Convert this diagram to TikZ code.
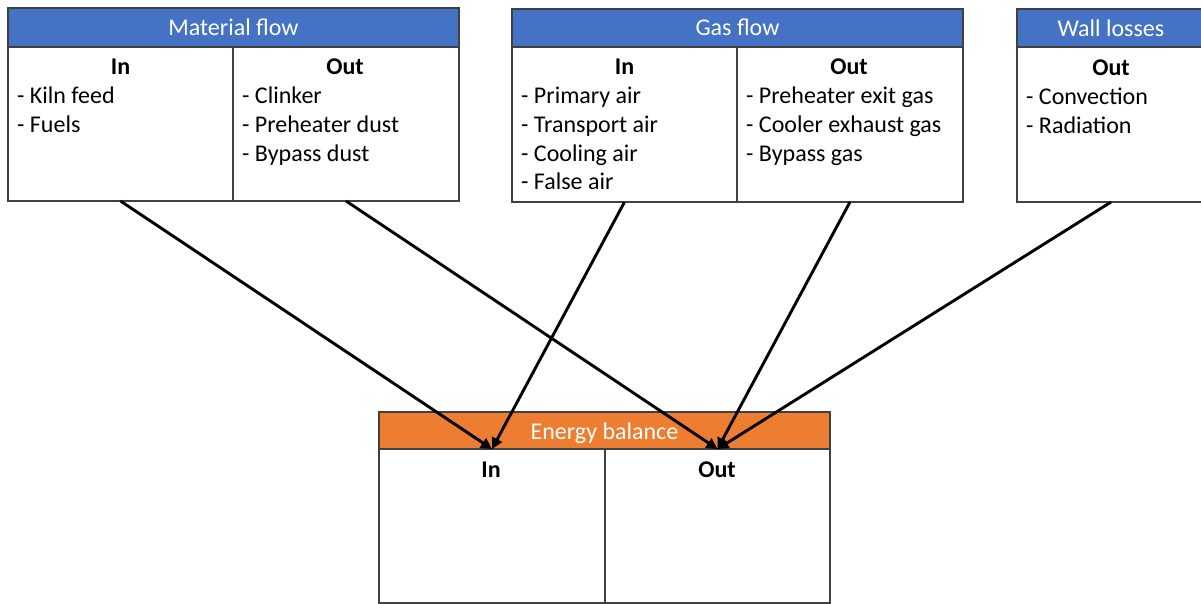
\documentclass[tikz,border=0pt]{standalone}
\usepackage{fontspec}
\setmainfont{Carlito}
\usetikzlibrary{arrows.meta}
\definecolor{hblue}{HTML}{4472C4}
\definecolor{horange}{HTML}{ED7D31}
\definecolor{edge}{HTML}{404040}
\tikzset{
  box/.style={draw=edge, line width=1.3pt, rectangle, inner sep=0pt, outer sep=0pt},
  hdr/.style={box},
  bluehdr/.style={hdr, fill=hblue},
  orangehdr/.style={hdr, fill=horange},
  hdrtext/.style={text=white, font=\fontsize{24}{28}\selectfont, anchor=base, inner sep=0pt},
  cell/.style={box, fill=white},
  colhead/.style={anchor=base, inner sep=0pt, font=\fontsize{24}{28}\selectfont\bfseries},
  item/.style={anchor=base west, inner sep=0pt, font=\fontsize{24}{28}\selectfont},
  flow/.style={line width=2.9pt, -{Triangle[length=11pt,width=11pt]}},
}
\begin{document}
\begin{tikzpicture}[x=1pt,y=-1pt]
\useasboundingbox (0,0) rectangle (1201,604);
% Material flow
\node[bluehdr, minimum width=451pt, minimum height=39pt] (matH) at (233.5,27.5) {};
\node[hdrtext] (matT) at (233.5,36) {Material flow};
\node[cell, minimum width=225pt, minimum height=154pt] (matIn) at (120.5,124) {};
\node[cell, minimum width=226pt, minimum height=154pt] (matOut) at (346,124) {};
\node[colhead] (matInH) at (120.5,74.5) {In};
\node[colhead] (matOutH) at (345,74.5) {Out};
\node[item] (m1) at (17,103.5) {- Kiln feed};
\node[item] (m2) at (17,132.5) {- Fuels};
\node[item] (m3) at (242,103.5) {- Clinker};
\node[item] (m4) at (242,132.5) {- Preheater dust};
\node[item] (m5) at (242,161.5) {- Bypass dust};
% Gas flow
\node[bluehdr, minimum width=451pt, minimum height=38pt] (gasH) at (737.5,28) {};
\node[hdrtext] (gasT) at (737.5,36) {Gas flow};
\node[cell, minimum width=225pt, minimum height=155pt] (gasIn) at (624.5,124.5) {};
\node[cell, minimum width=226pt, minimum height=155pt] (gasOut) at (850,124.5) {};
\node[colhead] (gasInH) at (624.5,74.5) {In};
\node[colhead] (gasOutH) at (849,74.5) {Out};
\node[item] (g1) at (521,103.5) {- Primary air};
\node[item] (g2) at (521,132.5) {- Transport air};
\node[item] (g3) at (521,161.5) {- Cooling air};
\node[item] (g4) at (521,189.5) {- False air};
\node[item] (g5) at (746,103.5) {- Preheater exit gas};
\node[item] (g6) at (746,132.5) {- Cooler exhaust gas};
\node[item] (g7) at (746,161.5) {- Bypass gas};
% Wall losses
\node[bluehdr, minimum width=188pt, minimum height=38pt] (wallH) at (1111,28) {};
\node[hdrtext] (wallT) at (1111,37) {Wall losses};
\node[cell, minimum width=188pt, minimum height=155pt] (wallOut) at (1111,124.5) {};
\node[colhead] (wallOutH) at (1111,75.5) {Out};
\node[item] (w1) at (1026,104.5) {- Convection};
\node[item] (w2) at (1026,133.5) {- Radiation};
% Energy balance
\node[orangehdr, minimum width=451pt, minimum height=37pt] (enH) at (604.5,430.5) {};
\node[hdrtext] (enT) at (604.5,439) {Energy balance};
\node[cell, minimum width=226pt, minimum height=154pt] (enIn) at (492,526) {};
\node[cell, minimum width=225pt, minimum height=154pt] (enOut) at (717.5,526) {};
\node[colhead] (enInH) at (491,477) {In};
\node[colhead] (enOutH) at (717,477) {Out};
% Connectors
\draw[flow] (matIn.south) -- (enIn.north);
\draw[flow] (gasIn.south) -- (enIn.north);
\draw[flow] (matOut.south) -- (enOut.north);
\draw[flow] (gasOut.south) -- (enOut.north);
\draw[flow] (wallOut.south) -- (enOut.north);
\end{tikzpicture}
\end{document}
